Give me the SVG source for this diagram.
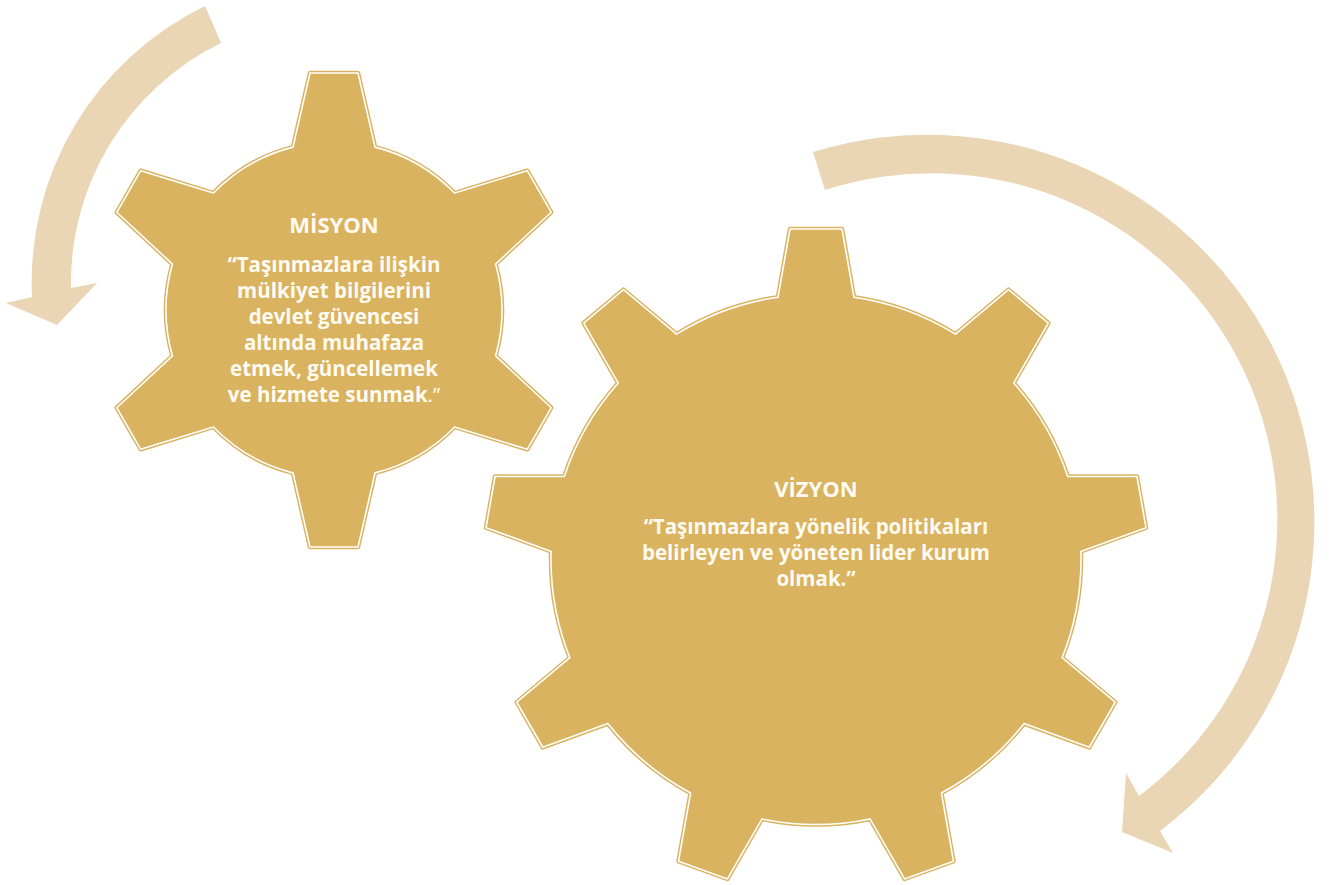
<svg xmlns="http://www.w3.org/2000/svg" width="1332" height="885" viewBox="0 0 1332 885">
<style>
.arrow{fill:#EAD5B4;stroke:none}
.gear-base{fill:#D9B35F;stroke:#D9B35F;stroke-width:4.5;stroke-linejoin:round}
.gear-line{fill:none;stroke:#FFFFFF;stroke-width:1.6;stroke-linejoin:round}
text{font-family:"Open Sans","Liberation Sans",sans-serif;font-weight:700;fill:#FFFBF2;text-anchor:middle;font-size:20.5px}
.title{font-size:22px}
.thin{font-weight:400}
</style>
<defs>
<path id="gearS" d="M293,147.1 L310,73 L358,73 L375,147.1 A168 168 0 0 1 454.57,193.04 L527.25,170.72 L551.25,212.28 L495.57,264.06 A168 168 0 0 1 495.57,355.94 L551.25,407.72 L527.25,449.28 L454.57,426.96 A168 168 0 0 1 375,472.9 L358,547 L310,547 L293,472.9 A168 168 0 0 1 213.43,426.96 L140.75,449.28 L116.75,407.72 L172.43,355.94 A168 168 0 0 1 172.43,264.06 L116.75,212.28 L140.75,170.72 L213.43,193.04 A168 168 0 0 1 293,147.1 Z"/>
<path id="gearL" d="M778,297.24 L790,229 L842,229 L854,297.24 A265 265 0 0 1 955.47,334.17 L1008.52,289.61 L1048.36,323.03 L1013.69,383.03 A265 265 0 0 1 1067.68,476.54 L1136.97,476.5 L1145.99,527.72 L1080.88,551.38 A265 265 0 0 1 1062.12,657.72 L1115.22,702.23 L1089.22,747.27 L1024.12,723.54 A265 265 0 0 1 941.41,792.94 L953.47,861.18 L904.61,878.96 L869.99,818.94 A265 265 0 0 1 762.01,818.94 L727.39,878.96 L678.53,861.18 L690.59,792.94 A265 265 0 0 1 607.88,723.54 L542.78,747.27 L516.78,702.23 L569.88,657.72 A265 265 0 0 1 551.12,551.38 L486.01,527.72 L495.03,476.5 L564.32,476.54 A265 265 0 0 1 618.31,383.03 L583.64,323.03 L623.48,289.61 L676.53,334.17 A265 265 0 0 1 778,297.24 Z"/>
</defs>
<g id="connectors">
<path id="arrow-left" class="arrow" d="M205,6 A307 307 0 0 0 32,297 L6,303 L57,325 L97,283 L71,288 A267 267 0 0 1 221,43 Z"/>
<path id="arrow-right" class="arrow" d="M813,152 A387 387 0 0 1 1160,831 L1173,853 L1122,832 L1126,773 L1139,796 A346 346 0 0 0 825,190 Z"/>
</g>
<g id="gear-misyon">
<use href="#gearS" class="gear-base"/>
<use href="#gearS" class="gear-line"/>
<text class="title" x="334" y="233">MİSYON</text>
<text x="334" y="272">“Taşınmazlara ilişkin</text>
<text x="334" y="298">mülkiyet bilgilerini</text>
<text x="334" y="324">devlet güvencesi</text>
<text x="334" y="350">altında muhafaza</text>
<text x="334" y="376">etmek, güncellemek</text>
<text x="334" y="402">ve hizmete sunmak<tspan class="thin">.”</tspan></text>
</g>
<g id="gear-vizyon">
<use href="#gearL" class="gear-base"/>
<use href="#gearL" class="gear-line"/>
<text class="title" x="816" y="497">VİZYON</text>
<text x="816" y="534">“Taşınmazlara yönelik politikaları</text>
<text x="816" y="560">belirleyen ve yöneten lider kurum</text>
<text x="816" y="586">olmak.”</text>
</g>
</svg>
